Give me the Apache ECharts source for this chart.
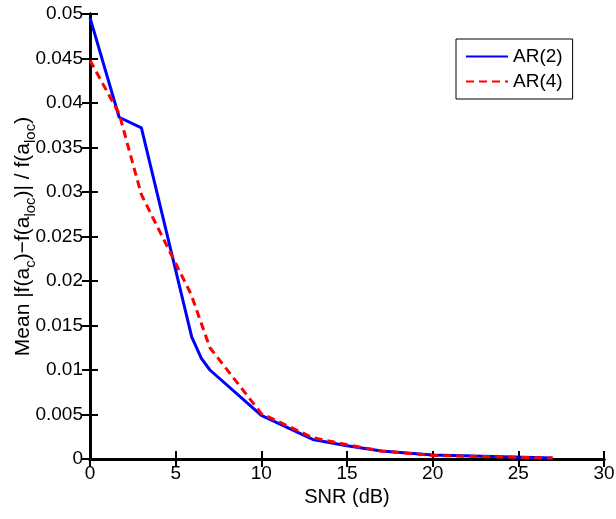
<!DOCTYPE html>
<html>
<head>
<meta charset="utf-8">
<script src="https://cdn.jsdelivr.net/npm/echarts@6/dist/echarts.min.js"></script>
<style>
    html, body {margin: 0; padding: 0; background: #fff;}
    #chart-snr-main {width: 616px; height: 519px;}
</style>
</head>
<body>
<div id="chart-snr-main"></div>
<script>
// values
let snrAr2 = [0, 1.7, 3, 5.94, 6.5, 7, 10, 13, 15, 17, 20, 27];
let meanAr2 = [0.0496, 0.0384, 0.0372, 0.0137, 0.0113, 0.0100, 0.0049, 0.0022, 0.0015, 0.0009, 0.00045, 0.0001];
let snrAr4 = [0, 1.7, 3, 5.9, 7, 10, 13, 15, 17, 20, 27];
let meanAr4 = [0.0448, 0.0388, 0.0297, 0.0185, 0.0125, 0.0051, 0.0024, 0.0016, 0.0009, 0.0004, 0.0001];
let seriesNames = ['AR(2)', 'AR(4)'];

let fontFamily = '"Liberation Sans", Arial, sans-serif';
let myChart = echarts.init(document.getElementById('chart-snr-main'));

function pairs(xs, ys) {
    return xs.map((x, i) => [x, ys[i]]);
}

let axisLineStyle = {show: true, lineStyle: {color: '#000', width: 3}};
let axisTickStyle = {show: true, inside: true, length: 8, lineStyle: {color: '#000', width: 2}};

let option = {
    animation: false,
    textStyle: {fontFamily: fontFamily},
    // keep the plot box fixed, labels may hang outside it
    grid: {left: 90, right: 12, top: 14, bottom: 60, outerBoundsMode: 'none', containLabel: false},
    legend: {
        orient: 'vertical',
        left: 456,
        top: 39,
        padding: [8, 10, 8, 9],
        itemGap: 6,
        itemWidth: 42,
        itemHeight: 14,
        borderColor: '#000',
        borderWidth: 1,
        backgroundColor: '#fff',
        // hide the marker dot, keep only the line sample
        itemStyle: {opacity: 0},
        textStyle: {fontSize: 19, color: '#000', fontFamily: fontFamily},
        data: seriesNames
    },
    xAxis: [{
        type: 'value',
        min: 0,
        max: 30,
        interval: 5,
        name: 'SNR (dB)',
        nameLocation: 'middle',
        nameGap: 28,
        nameMoveOverlap: false,
        nameTextStyle: {fontSize: 20, color: '#000'},
        axisLine: axisLineStyle,
        axisTick: axisTickStyle,
        axisLabel: {color: '#000', fontSize: 19, margin: 5},
        splitLine: {show: false}
    }, {
        type: 'value',
        position: 'top',
        min: 0,
        max: 30,
        interval: 5,
        axisLine: axisLineStyle,
        axisTick: axisTickStyle,
        axisLabel: {show: false},
        splitLine: {show: false}
    }],
    yAxis: [{
        type: 'value',
        min: 0,
        max: 0.05,
        interval: 0.005,
        name: '{n|Mean |f(a}{s|c}{n|)\u2212f(a}{s|loc}{n|)| / f(a}{s|loc}{n|)}',
        nameLocation: 'middle',
        nameGap: 52,
        nameRotate: 90,
        nameMoveOverlap: false,
        nameTextStyle: {
            color: '#000',
            rich: {
                n: {fontSize: 21, color: '#000', lineHeight: 25, verticalAlign: 'top', fontFamily: fontFamily},
                s: {fontSize: 15, color: '#000', lineHeight: 13, verticalAlign: 'bottom', fontFamily: fontFamily}
            }
        },
        axisLine: axisLineStyle,
        axisTick: axisTickStyle,
        axisLabel: {
            color: '#000',
            fontSize: 19,
            margin: 7,
            formatter: v => String(+v.toFixed(3))
        },
        splitLine: {show: false}
    }, {
        type: 'value',
        position: 'right',
        min: 0,
        max: 0.05,
        interval: 0.005,
        axisLine: axisLineStyle,
        axisTick: axisTickStyle,
        axisLabel: {show: false},
        splitLine: {show: false}
    }],
    series: [
        {
            name: seriesNames[0],
            type: 'line',
            data: pairs(snrAr2, meanAr2),
            symbol: 'none',
            color: '#0000ff',
            lineStyle: {color: '#0000ff', width: 3}
        },
        {
            name: seriesNames[1],
            type: 'line',
            data: pairs(snrAr4, meanAr4),
            symbol: 'none',
            color: '#ff0000',
            lineStyle: {color: '#ff0000', width: 3, type: [8, 5]}
        }
    ]
};
option && myChart.setOption(option);
</script>
</body>
</html>
